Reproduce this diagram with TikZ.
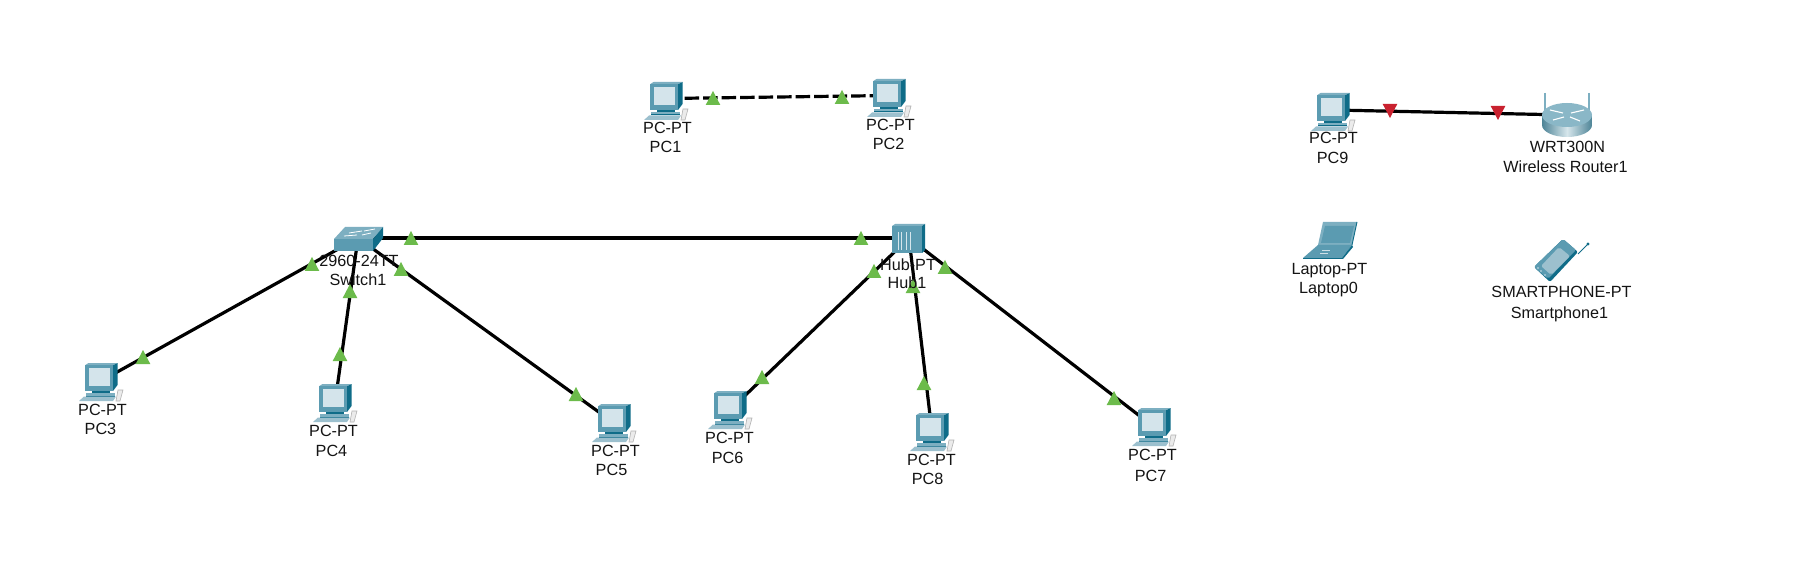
\documentclass[tikz,border=0pt]{standalone}
\usepackage{fontspec}
\setmainfont{Liberation Sans}
\definecolor{frontc}{HTML}{5B9BB1}
\definecolor{topc}{HTML}{7DAFC1}
\definecolor{sidec}{HTML}{0F6C88}
\definecolor{screenc}{HTML}{D4E4EB}
\definecolor{lightc}{HTML}{9CC0CE}
\definecolor{okgreen}{HTML}{6CBB4B}
\definecolor{downred}{HTML}{C9212F}
\tikzset{
  x=1pt,y=-1pt,
  lbl/.style={font=\fontsize{16.2}{16}\selectfont,inner sep=0pt,anchor=base,text=black!92},
  anchorpt/.style={inner sep=0pt,minimum size=0pt},
  link/.style={line width=3.2pt,black},
  crosslink/.style={line width=3.2pt,black,dash pattern=on 14.5pt off 4pt},
  pcicon/.pic={
    \fill[topc] (5,2.3)--(8.5,0)--(37.5,0)--(33,2.3)--cycle;
    \fill[sidec] (33,2.3)--(37.5,0)--(37.5,22)--(33,28)--cycle;
    \fill[frontc] (5,2.3) rectangle (33,28);
    \fill[screenc] (8.5,5) rectangle (30,23);
    \fill[sidec] (12,28) rectangle (30,30);
    \fill[topc] (6,30) rectangle (35,32.5);
    \fill[sidec] (6,32.5) rectangle (35,33.5);
    \fill[lightc] (-1,38)--(4,33.5)--(36,33.5)--(33,38)--cycle;
    \fill[black!8] (38,27)--(43,27)--(40,38)--(36,38)--cycle;
    \draw[black!30,line width=.6pt] (38,27)--(43,27)--(40,38)--(36,38)--cycle;
  },
  up/.pic={\fill[okgreen] (-7.3,7)--(0,-7)--(7.3,7)--cycle;},
  dn/.pic={\fill[downred] (-7.3,-7)--(0,7)--(7.3,-7)--cycle;},
}
\begin{document}
\begin{tikzpicture}
\useasboundingbox[fill=white] (0,0) rectangle (1808,580);
% connection points
\node[anchorpt] (pc1) at (666,98.5) {};
\node[anchorpt] (pc2) at (890,95.5) {};
\node[anchorpt] (pc3) at (101,381) {};
\node[anchorpt] (pc4) at (335,403) {};
\node[anchorpt] (pc5) at (614,423) {};
\node[anchorpt] (pc6) at (730,410) {};
\node[anchorpt] (pc7) at (1154,427) {};
\node[anchorpt] (pc8) at (932,432) {};
\node[anchorpt] (pc9) at (1334,110) {};
\node[anchorpt] (router) at (1567,115) {};
\node[anchorpt] (switch) at (358,238) {};
\node[anchorpt] (hub) at (909,238) {};
% connectors
\draw[crosslink] (pc1)--(pc2);
\draw[link] (pc9)--(router);
\draw[link] (switch)--(hub);
\draw[link] (switch)--(pc3);
\draw[link] (switch)--(pc4);
\draw[link] (switch)--(pc5);
\draw[link] (hub)--(pc6);
\draw[link] (hub)--(pc8);
\draw[link] (hub)--(pc7);
% PCs
\pic at (645,82) {pcicon};
\pic at (868,79) {pcicon};
\pic at (80,363) {pcicon};
\pic at (314,384) {pcicon};
\pic at (593,404) {pcicon};
\pic at (709,391) {pcicon};
\pic at (1133,408) {pcicon};
\pic at (911,413) {pcicon};
\pic at (1312,93) {pcicon};
% router
\draw[topc,line width=1.4pt] (1545,93)--(1545,112) (1589,93)--(1589,112);
\shade[left color=frontc!85!black,right color=frontc!85!black,middle color=white!75!frontc]
  (1542,115)--(1542,125) arc[start angle=180,end angle=0,x radius=25,y radius=12]--(1592,115)--cycle;
\fill[topc!90!white] (1567,115) ellipse[x radius=25,y radius=12];
\draw[white,line width=1.1pt] (1550,110)--(1563,113) (1584,110)--(1571,113) (1553,120)--(1564,117) (1580,121)--(1570,117);
% switch
\fill[topc] (334,239)--(345,227)--(383,227)--(373,239)--cycle;
\fill[sidec] (373,239)--(383,227)--(383,238)--(373,251)--cycle;
\fill[frontc] (334,239) rectangle (373,251);
\draw[white,line width=.8pt] (349,233)--(362,231) (364,231)--(375,229) (344,236)--(357,235) (362,235)--(371,233);
% hub
\fill[topc] (892,226)--(895,224)--(925,224)--(922,226)--cycle;
\fill[sidec] (922,226)--(925,224)--(925,250)--(922,253)--cycle;
\fill[frontc] (892,226) rectangle (922,253);
\draw[white!75!frontc,line width=.8pt] (898,232)--(898,250) (901,232)--(901,250) (906,232)--(906,250) (910,232)--(910,250);
% laptop
\fill[topc] (1323,222)--(1357,222)--(1352,245)--(1318,245)--cycle;
\draw[sidec,line width=.9pt] (1357,222)--(1352,245);
\fill[frontc] (1325,226)--(1354,226)--(1350,243)--(1321,243)--cycle;
\fill[frontc] (1318,245)--(1352,245)--(1342,258)--(1303,258)--cycle;
\fill[sidec] (1352,245)--(1353,247)--(1343,259)--(1342,258)--cycle;
\fill[sidec] (1303,258) rectangle (1343,259.5);
\draw[white!70!frontc,line width=.6pt] (1322,250)--(1330,250) (1320,253)--(1328,253);
% smartphone
\draw[sidec,line width=.9pt] (1578,254)--(1588,244);
\fill[sidec] (1588,244) circle[radius=1.6];
\fill[sidec,rounded corners=2pt] (1563,239)--(1578,252)--(1550,282)--(1534,267)--cycle;
\fill[frontc,rounded corners=2pt] (1563,239)--(1576,250)--(1548,279)--(1534,267)--cycle;
\fill[lightc,rounded corners=2pt] (1559,247)--(1570,256)--(1551,275)--(1541,266)--cycle;
\fill[white!70!frontc] (1538,268) circle[radius=.8] (1541,271) circle[radius=.8] (1545,275) circle[radius=.8];
% status triangles
\node[anchorpt] (t1) at (713,98) {}; \pic at (t1) {up};
\node[anchorpt] (t2) at (842,97) {}; \pic at (t2) {up};
\node[anchorpt] (t3) at (1390,111) {}; \pic at (t3) {dn};
\node[anchorpt] (t4) at (1498,113) {}; \pic at (t4) {dn};
\node[anchorpt] (t5) at (312,264) {}; \pic at (t5) {up};
\node[anchorpt] (t6) at (143,357) {}; \pic at (t6) {up};
\node[anchorpt] (t7) at (350,291) {}; \pic at (t7) {up};
\node[anchorpt] (t8) at (340,354) {}; \pic at (t8) {up};
\node[anchorpt] (t9) at (401,269) {}; \pic at (t9) {up};
\node[anchorpt] (t10) at (576,394) {}; \pic at (t10) {up};
\node[anchorpt] (t11) at (411,238) {}; \pic at (t11) {up};
\node[anchorpt] (t12) at (861,238) {}; \pic at (t12) {up};
\node[anchorpt] (t13) at (874,271) {}; \pic at (t13) {up};
\node[anchorpt] (t14) at (762,377) {}; \pic at (t14) {up};
\node[anchorpt] (t15) at (913,286) {}; \pic at (t15) {up};
\node[anchorpt] (t16) at (924,383) {}; \pic at (t16) {up};
\node[anchorpt] (t17) at (945,267) {}; \pic at (t17) {up};
\node[anchorpt] (t18) at (1114,398) {}; \pic at (t18) {up};
% labels
\node[lbl] (l1a) at (667.5,134) {PC-PT};
\node[lbl] (l1b) at (665.5,153) {PC1};
\node[lbl] (l2a) at (890.5,131) {PC-PT};
\node[lbl] (l2b) at (888.5,150) {PC2};
\node[lbl] (l3a) at (102.5,415) {PC-PT};
\node[lbl] (l3b) at (100.5,434) {PC3};
\node[lbl] (l4a) at (333.5,436) {PC-PT};
\node[lbl] (l4b) at (331.5,456) {PC4};
\node[lbl] (l5a) at (615.5,456) {PC-PT};
\node[lbl] (l5b) at (611.5,475) {PC5};
\node[lbl] (l6a) at (729.5,443) {PC-PT};
\node[lbl] (l6b) at (727.5,463) {PC6};
\node[lbl] (l8a) at (931.5,465) {PC-PT};
\node[lbl] (l8b) at (927.5,484) {PC8};
\node[lbl] (l7a) at (1152.5,460) {PC-PT};
\node[lbl] (l7b) at (1150.5,481) {PC7};
\node[lbl] (l9a) at (1333.5,144) {PC-PT};
\node[lbl] (l9b) at (1332.5,164) {PC9};
\node[lbl] (lra) at (1567.5,153) {WRT300N};
\node[lbl] (lrb) at (1565.5,173) {Wireless Router1};
\node[lbl] (lsa) at (359,266) {2960-24TT};
\node[lbl] (lsb) at (358,285) {Switch1};
\node[lbl] (lha) at (908,270) {Hub-PT};
\node[lbl] (lhb) at (907,289) {Hub1};
\node[lbl] (lla) at (1329.5,275) {Laptop-PT};
\node[lbl] (llb) at (1328.5,294) {Laptop0};
\node[lbl] (lpa) at (1561.5,298) {SMARTPHONE-PT};
\node[lbl] (lpb) at (1559.5,318) {Smartphone1};
\end{tikzpicture}
\end{document}
